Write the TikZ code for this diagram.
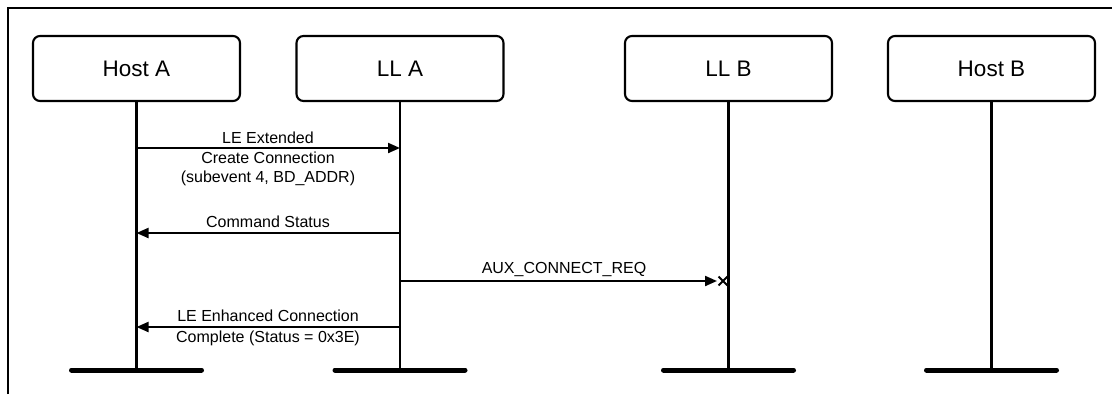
\documentclass[tikz,border=0pt]{standalone}
\usepackage{fontspec}
\setmainfont{Liberation Sans}
\usetikzlibrary{arrows.meta}
\begin{document}
\begin{tikzpicture}[x=1pt,y=1pt,
  entity/.style={draw=black,line width=2.1pt,rounded corners=7pt,minimum width=207pt,minimum height=65pt,inner sep=0pt,font=\fontsize{22.5}{25}\selectfont},
  life/.style={draw=black,line width=2.1pt},
  endbar/.style={draw=black,line width=5pt,line cap=round},
  msg/.style={draw=black,line width=2.1pt,-{Triangle[length=12pt,width=10pt]}},
  lbl/.style={inner sep=0pt,align=center,font=\fontsize{16}{19}\selectfont},
  frame/.style={draw=black,line width=2.2pt}]
\useasboundingbox (0,0) rectangle (1112,-394);
\draw[frame] (8,-394) -- (8,-8) -- (1112,-8);
% entities
\node[entity] (hostA) at (136.5,-68.5) {Host A};
\node[entity] (llA) at (400,-68.5) {LL A};
\node[entity] (llB) at (728.5,-68.5) {LL B};
\node[entity] (hostB) at (991.5,-68.5) {Host B};
% lifeline ends
\coordinate (hostAend) at (136.5,-370);
\coordinate (llAend) at (400,-370);
\coordinate (llBend) at (728.5,-370);
\coordinate (hostBend) at (991.5,-370);
\foreach \n in {hostA,llA,llB,hostB}{
  \draw[life] (\n.south) -- (\n end);
  \draw[endbar] ([xshift=-65pt]\n end) -- ([xshift=65pt]\n end);
}
% message points
\coordinate (m1s) at (136.5,-148);
\coordinate (m1e) at (400,-148);
\coordinate (m2s) at (400,-233);
\coordinate (m2e) at (136.5,-233);
\coordinate (m3s) at (400,-281);
\coordinate (m3e) at (717,-281);
\coordinate (m3x) at (723,-281);
\coordinate (m4s) at (400,-327);
\coordinate (m4e) at (136.5,-327);
\draw[msg] (m1s) -- (m1e);
\draw[msg] (m2s) -- (m2e);
\draw[msg] (m3s) -- (m3e);
\draw[msg] (m4s) -- (m4e);
\draw[line width=1.9pt] ([shift={(-4.5,-4.5)}]m3x) -- ([shift={(4.5,4.5)}]m3x) ([shift={(-4.5,4.5)}]m3x) -- ([shift={(4.5,-4.5)}]m3x);
% labels
\node[lbl] (t1) at (268,-138) {LE Extended};
\node[lbl] (t1b) at (268,-169) {Create Connection\\(subevent 4, BD\_ADDR)};
\node[lbl] (t2) at (268,-222) {Command Status};
\node[lbl] (t3) at (564,-269) {AUX\_CONNECT\_REQ};
\node[lbl] (t4) at (268,-316) {LE Enhanced Connection};
\node[lbl] (t4b) at (268,-338) {Complete (Status = 0x3E)};
\end{tikzpicture}
\end{document}
